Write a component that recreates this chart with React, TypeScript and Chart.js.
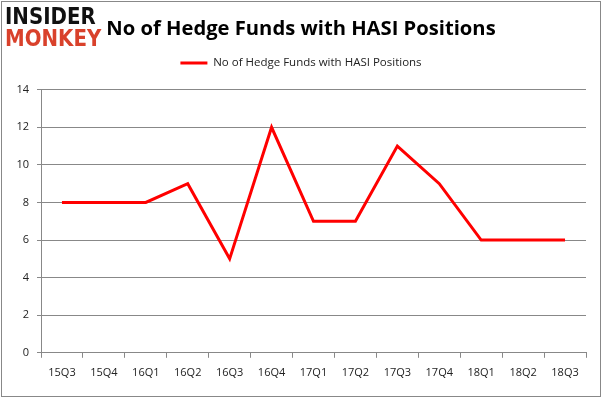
import React, { useEffect, useRef } from "react";
import { Chart, registerables } from "chart.js";

Chart.register(...registerables);

const categories = ["15Q3", "15Q4", "16Q1", "16Q2", "16Q3", "16Q4", "17Q1", "17Q2", "17Q3", "17Q4", "18Q1", "18Q2", "18Q3"];
const hedgeFunds = [8, 8, 8, 9, 5, 12, 7, 7, 11, 9, 6, 6, 6];
const seriesLabel = "No of Hedge Funds with HASI Positions";
const titleText = "No of Hedge Funds with HASI Positions";

const borderPlugin = {
  id: "outerBorder",
  afterDraw(chart: any) {
    const ctx = chart.ctx;
    ctx.save();
    ctx.strokeStyle = "#888888";
    ctx.lineWidth = 1;
    ctx.strokeRect(1.5, 1.5, chart.width - 3, chart.height - 3);
    ctx.restore();
  },
};

const legendSpacing = {
  id: "legendSpacing",
  beforeInit(chart: any) {
    const legend = chart.legend;
    if (!legend) return;
    const orig = legend.fit;
    legend.fit = function () {
      orig.call(this);
      this.height += 11;
    };
  },
};

export default function App() {
  const ref = useRef<HTMLCanvasElement | null>(null);
  useEffect(() => {
    if (!ref.current) return;
    const chart = new Chart(ref.current, {
      type: "line",
      data: {
        labels: categories,
        datasets: [
          {
            label: seriesLabel,
            data: hedgeFunds,
            borderColor: "#ff0000",
            backgroundColor: "#ff0000",
            borderWidth: 3,
            pointRadius: 0,
            tension: 0,
          },
        ],
      },
      plugins: [borderPlugin, legendSpacing],
      options: {
        animation: false,
        responsive: false,
        maintainAspectRatio: false,
        layout: { padding: { left: 16, right: 16, top: 8, bottom: 11 } },
        plugins: {
          title: {
            display: true,
            text: titleText,
            color: "#000000",
            font: { family: "Open Sans", size: 20.2, weight: "bold" },
            padding: { top: 9, bottom: 6 },
          },
          legend: {
            display: true,
            labels: {
              color: "#222222",
              font: { family: "Open Sans", size: 11.5 },
              boxWidth: 27,
              boxHeight: 0,
              padding: 10,
            },
          },
          tooltip: { enabled: false },
        },
        scales: {
          x: {
            offset: true,
            grid: {
              display: true,
              offset: true,
              drawOnChartArea: false,
              drawTicks: true,
              tickLength: 5,
              color: "#888888",
            },
            border: { display: true, color: "#888888" },
            ticks: { color: "#222222", font: { family: "Open Sans", size: 11 }, padding: 8, maxRotation: 0 },
          },
          y: {
            min: 0,
            max: 14,
            afterFit: (s: any) => {
              s.width = 25;
            },
            ticks: { stepSize: 2, color: "#222222", font: { family: "Open Sans", size: 11 }, padding: 8 },
            grid: { color: "#888888", drawTicks: true, tickLength: 4 },
            border: { display: true, color: "#888888" },
          },
        },
      },
    });
    return () => chart.destroy();
  }, []);

  return (
    <div style={{ position: "fixed", left: 0, top: 0, width: 602, height: 398, background: "#fff" }}>
      <canvas ref={ref} width={602} height={398} style={{ position: "absolute", left: 0, top: 0 }} />
      <div
        style={{
          position: "absolute",
          left: 5,
          top: 5,
          fontFamily: "DejaVu Sans",
          fontWeight: "bold",
          fontSize: 23,
          lineHeight: "22px",
          transform: "scaleX(0.86)",
          transformOrigin: "left top",
        }}
      >
        <div style={{ color: "#111111" }}>INSIDER</div>
        <div style={{ color: "#d9412b" }}>MONKEY</div>
      </div>
    </div>
  );
}
